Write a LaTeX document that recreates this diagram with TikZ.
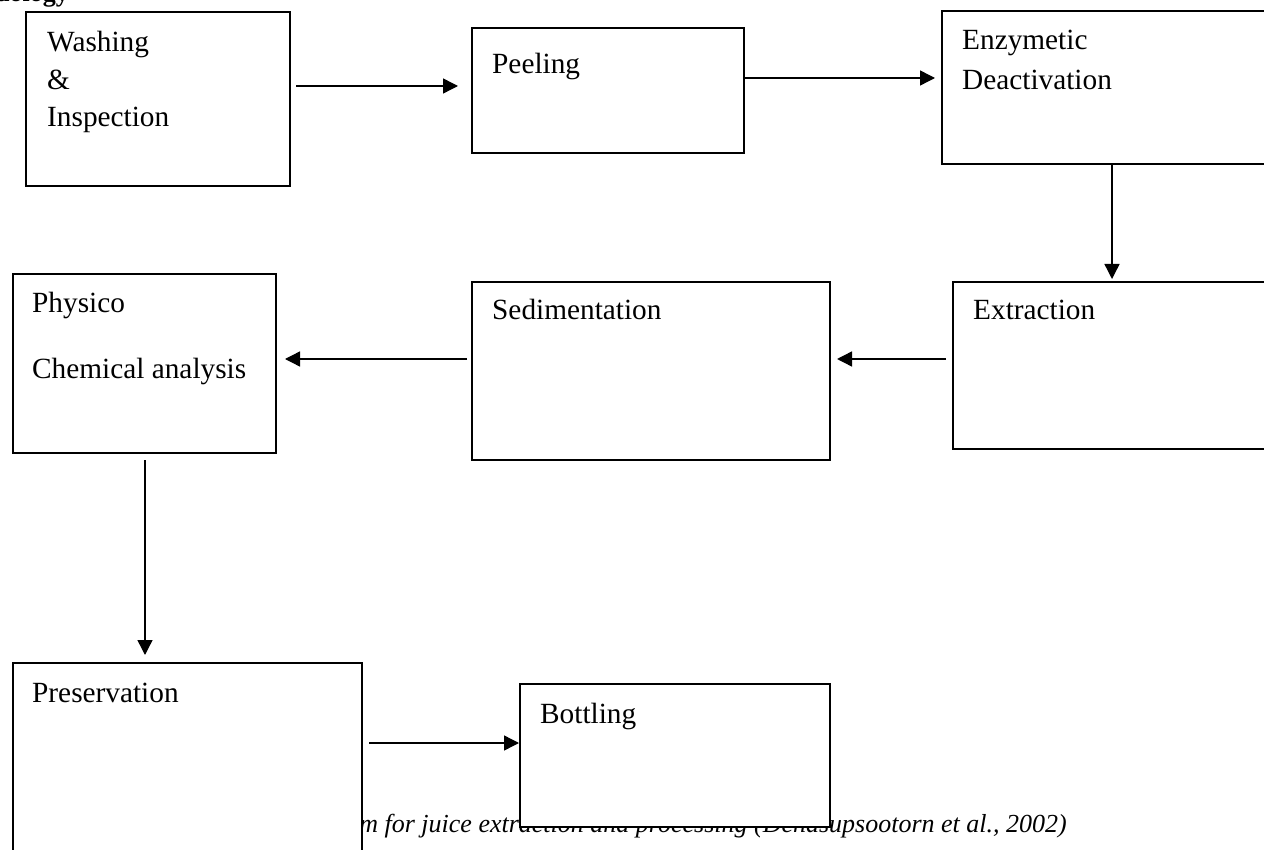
\documentclass[tikz,border=0pt]{standalone}
\usepackage{fontspec}
\setmainfont{Liberation Serif}
\usetikzlibrary{arrows.meta,positioning,calc}

\tikzset{
  stage/.style={draw=black, line width=2pt, fill=white, anchor=north west, inner sep=0pt},
  stagetext/.style={anchor=base west, align=left, inner sep=0pt, font=\fontsize{29.3}{37.5}\selectfont},
  flow/.style={line width=1.4pt, -{Triangle[length=15pt,width=15pt]}},
}

\begin{document}
\begin{tikzpicture}[x=1pt,y=-1pt]
  \clip (0,0) rectangle (1264,850);
  \fill[white] (0,0) rectangle (1264,850);
  % heading and caption, partly hidden
  \node[anchor=base east, inner sep=0pt, font=\fontsize{26}{30}\selectfont\bfseries] (head) at (69,2) {Methodology};
  \node[anchor=base east, inner sep=0pt, font=\fontsize{26}{30}\selectfont\itshape] (cap) at (1067,832) {Flow diagram for juice extraction and processing (Denasupsootorn et al., 2002)};

  % stages
  \node[stage, minimum width=264pt, minimum height=174pt] (wash) at (25,11) {};
  \node[stage, minimum width=272pt, minimum height=125pt] (peel) at (471,27) {};
  \node[stage, minimum width=349pt, minimum height=153pt] (enz) at (941,10) {};
  \node[stage, minimum width=338pt, minimum height=167pt] (extr) at (952,281) {};
  \node[stage, minimum width=358pt, minimum height=178pt] (sed) at (471,281) {};
  \node[stage, minimum width=263pt, minimum height=179pt] (phys) at (12,273) {};
  \node[stage, minimum width=349pt, minimum height=208pt] (pres) at (12,662) {};
  \node[stage, minimum width=310pt, minimum height=143pt] (bott) at (519,683) {};

  % labels (multi-line ones sit on their last line)
  \node[stagetext] (washtxt) at ($(wash.north west)+(22,116)$) {Washing\\\&\\Inspection};
  \node[stagetext] (peeltxt) at ($(peel.north west)+(21,47)$) {Peeling};
  \node[stagetext] (enztxt) at ($(enz.north west)+(21,80)$) {Enzymetic\\[2.5pt]Deactivation};
  \node[stagetext] (extrtxt) at ($(extr.north west)+(21,39)$) {Extraction};
  \node[stagetext] (sedtxt) at ($(sed.north west)+(21,39)$) {Sedimentation};
  \node[stagetext] (phystxt) at ($(phys.north west)+(20,105)$) {Physico\\[28.5pt]Chemical analysis};
  \node[stagetext] (prestxt) at ($(pres.north west)+(20,40)$) {Preservation};
  \node[stagetext] (botttxt) at ($(bott.north west)+(21,40)$) {Bottling};

  % arrow lanes
  \coordinate (w2p) at (0,86);
  \coordinate (p2e) at (0,78);
  \coordinate (e2x) at (1112,0);
  \coordinate (row2) at (0,359);
  \coordinate (p2p) at (145,0);
  \coordinate (p2b) at (0,743);

  \draw[flow, shorten <=5pt, shorten >=13pt] (wash.east |- w2p) -- (peel.west |- w2p);
  \draw[flow, shorten >=6pt] (peel.east |- p2e) -- (enz.west |- p2e);
  \draw[flow, shorten >=2pt] (enz.south -| e2x) -- (extr.north -| e2x);
  \draw[flow, shorten <=6pt, shorten >=6pt] (extr.west |- row2) -- (sed.east |- row2);
  \draw[flow, shorten <=4pt, shorten >=8pt] (sed.west |- row2) -- (phys.east |- row2);
  \draw[flow, shorten <=6pt, shorten >=7pt] (phys.south -| p2p) -- (pres.north -| p2p);
  \draw[flow, shorten <=6pt] (pres.east |- p2b) -- (bott.west |- p2b);
\end{tikzpicture}
\end{document}
